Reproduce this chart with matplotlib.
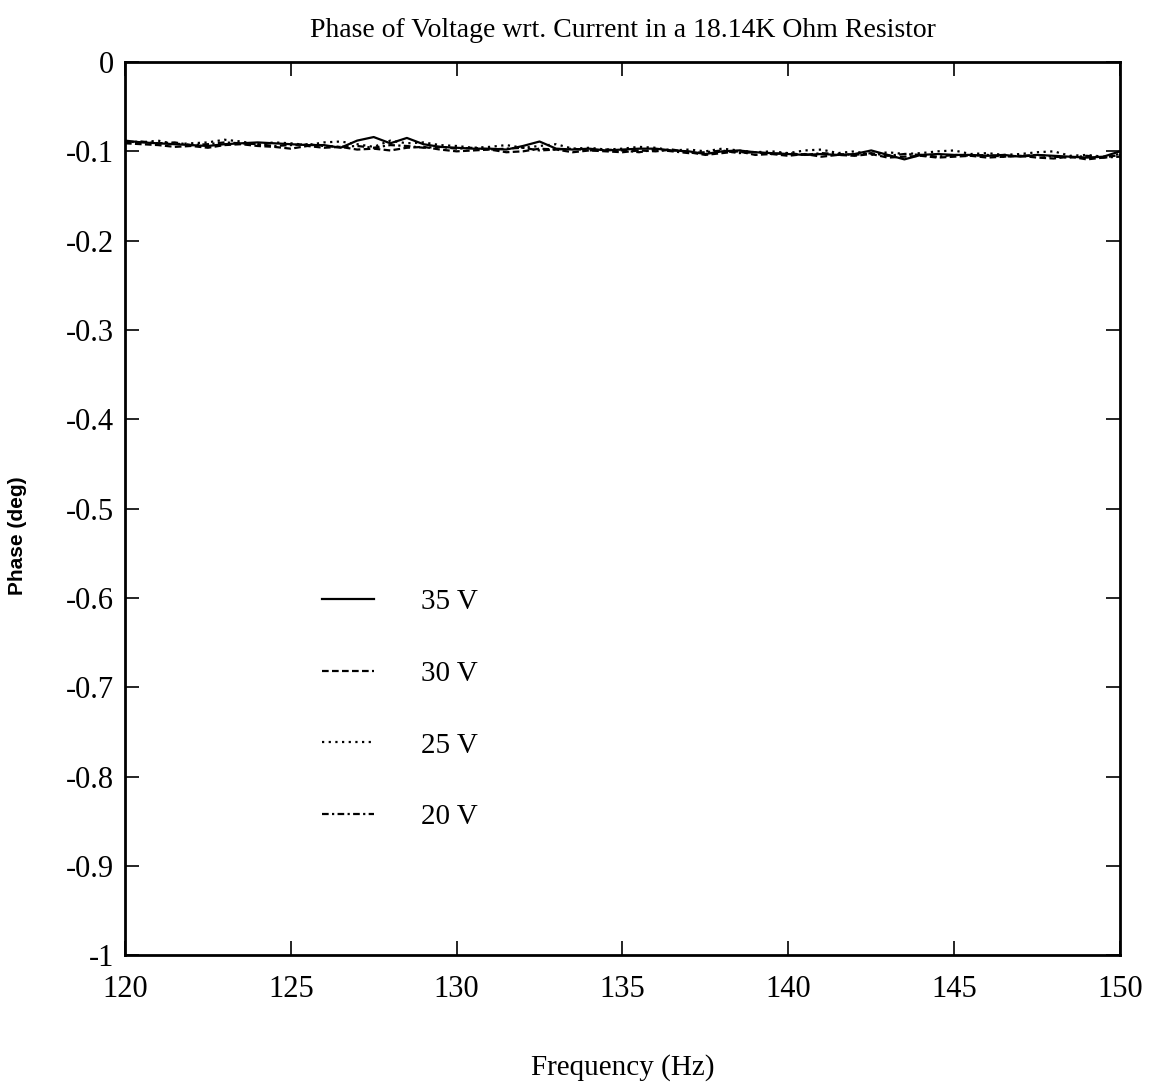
import numpy as np
import matplotlib
matplotlib.use("Agg")
import matplotlib.pyplot as plt

plt.rcParams['font.family'] = ['Liberation Serif', 'DejaVu Serif']
plt.rcParams['axes.unicode_minus'] = False

# phase readings, 120-150 Hz in 0.5 Hz steps
phase_35v = [-0.088, -0.090, -0.091, -0.092, -0.093, -0.094, -0.092, -0.091, -0.090, -0.091,
             -0.092, -0.093, -0.093, -0.096, -0.088, -0.084, -0.091, -0.085, -0.092, -0.095,
             -0.096, -0.097, -0.097, -0.098, -0.094, -0.089, -0.097, -0.098, -0.097, -0.099,
             -0.098, -0.097, -0.097, -0.099, -0.100, -0.103, -0.100, -0.099, -0.101, -0.102,
             -0.103, -0.104, -0.103, -0.104, -0.103, -0.099, -0.104, -0.109, -0.104, -0.103,
             -0.104, -0.104, -0.105, -0.104, -0.106, -0.104, -0.105, -0.106, -0.107, -0.106,
             -0.100]
phase_30v = [-0.091, -0.092, -0.093, -0.095, -0.094, -0.096, -0.093, -0.092, -0.094, -0.095,
             -0.097, -0.094, -0.096, -0.095, -0.098, -0.097, -0.099, -0.096, -0.095, -0.098,
             -0.100, -0.099, -0.098, -0.101, -0.100, -0.097, -0.098, -0.101, -0.099, -0.100,
             -0.101, -0.099, -0.100, -0.098, -0.101, -0.104, -0.102, -0.100, -0.104, -0.103,
             -0.105, -0.103, -0.106, -0.104, -0.105, -0.103, -0.107, -0.106, -0.105, -0.107,
             -0.106, -0.105, -0.107, -0.106, -0.105, -0.107, -0.108, -0.106, -0.109, -0.107,
             -0.104]
phase_25v = [-0.089, -0.090, -0.088, -0.092, -0.091, -0.090, -0.087, -0.089, -0.092, -0.090,
             -0.091, -0.093, -0.090, -0.089, -0.092, -0.095, -0.088, -0.091, -0.090, -0.093,
             -0.094, -0.096, -0.095, -0.093, -0.096, -0.094, -0.092, -0.097, -0.096, -0.098,
             -0.097, -0.095, -0.096, -0.099, -0.098, -0.100, -0.097, -0.099, -0.101, -0.100,
             -0.102, -0.099, -0.098, -0.102, -0.100, -0.104, -0.101, -0.103, -0.102, -0.100,
             -0.099, -0.103, -0.102, -0.104, -0.103, -0.101, -0.100, -0.105, -0.104, -0.106,
             -0.103]
phase_20v = [-0.090, -0.089, -0.091, -0.090, -0.093, -0.092, -0.090, -0.091, -0.092, -0.094,
             -0.093, -0.092, -0.094, -0.095, -0.094, -0.096, -0.093, -0.094, -0.096, -0.095,
             -0.097, -0.096, -0.098, -0.097, -0.096, -0.099, -0.098, -0.097, -0.099, -0.098,
             -0.099, -0.101, -0.098, -0.100, -0.102, -0.101, -0.099, -0.102, -0.101, -0.103,
             -0.102, -0.104, -0.102, -0.103, -0.104, -0.102, -0.105, -0.103, -0.104, -0.106,
             -0.104, -0.105, -0.104, -0.106, -0.105, -0.104, -0.106, -0.107, -0.105, -0.107,
             -0.106]
freq = np.arange(120, 150.25, 0.5)

x_ticks = [120, 125, 130, 135, 140, 145, 150]
y_ticks = [0, -0.1, -0.2, -0.3, -0.4, -0.5, -0.6, -0.7, -0.8, -0.9, -1]
y_labels = ['0', '-0.1', '-0.2', '-0.3', '-0.4', '-0.5', '-0.6', '-0.7', '-0.8', '-0.9', '-1']

series = [
    ('35 V', phase_35v, '-'),
    ('30 V', phase_30v, (0, (3, 1.5))),
    ('25 V', phase_25v, (0, (1, 2))),
    ('20 V', phase_20v, (0, (3, 1.5, 1, 1.5))),
]

fig = plt.figure(figsize=(11.57, 10.88), dpi=100)
ax = fig.add_axes([0.108, 0.122, 0.860, 0.821])

for label, vals, ls in series:
    ax.plot(freq, vals, color='black', linestyle=ls, linewidth=1.6, label=label)

ax.set_xlim(120, 150)
ax.set_ylim(-1, 0)
ax.set_xticks(x_ticks)
ax.set_yticks(y_ticks)
ax.set_yticklabels(y_labels)
ax.tick_params(direction='in', length=10, width=1.2, top=True, right=True,
               labelsize=22)
ax.tick_params(axis='x', pad=14)
ax.tick_params(axis='y', pad=8)
for sp in ax.spines.values():
    sp.set_linewidth(2)

ax.set_title('Phase of Voltage wrt. Current in a 18.14K Ohm Resistor',
             fontsize=20, pad=18)
ax.set_xlabel('Frequency (Hz)', fontsize=21, labelpad=36)
# y label is set in a sans face, sitting a little below the axis centre
ax.set_ylabel('Phase (deg)', fontsize=15, fontweight='bold',
              family=['Liberation Sans', 'DejaVu Sans'])
ax.yaxis.set_label_coords(-0.098, 0.47)

ax.legend(loc='upper left', bbox_to_anchor=(0.198, 0.41), frameon=False,
          fontsize=21, handlelength=1.8, handletextpad=1.6, labelspacing=1.55,
          borderpad=0, borderaxespad=0)

fig.savefig('out.png', dpi=100)
